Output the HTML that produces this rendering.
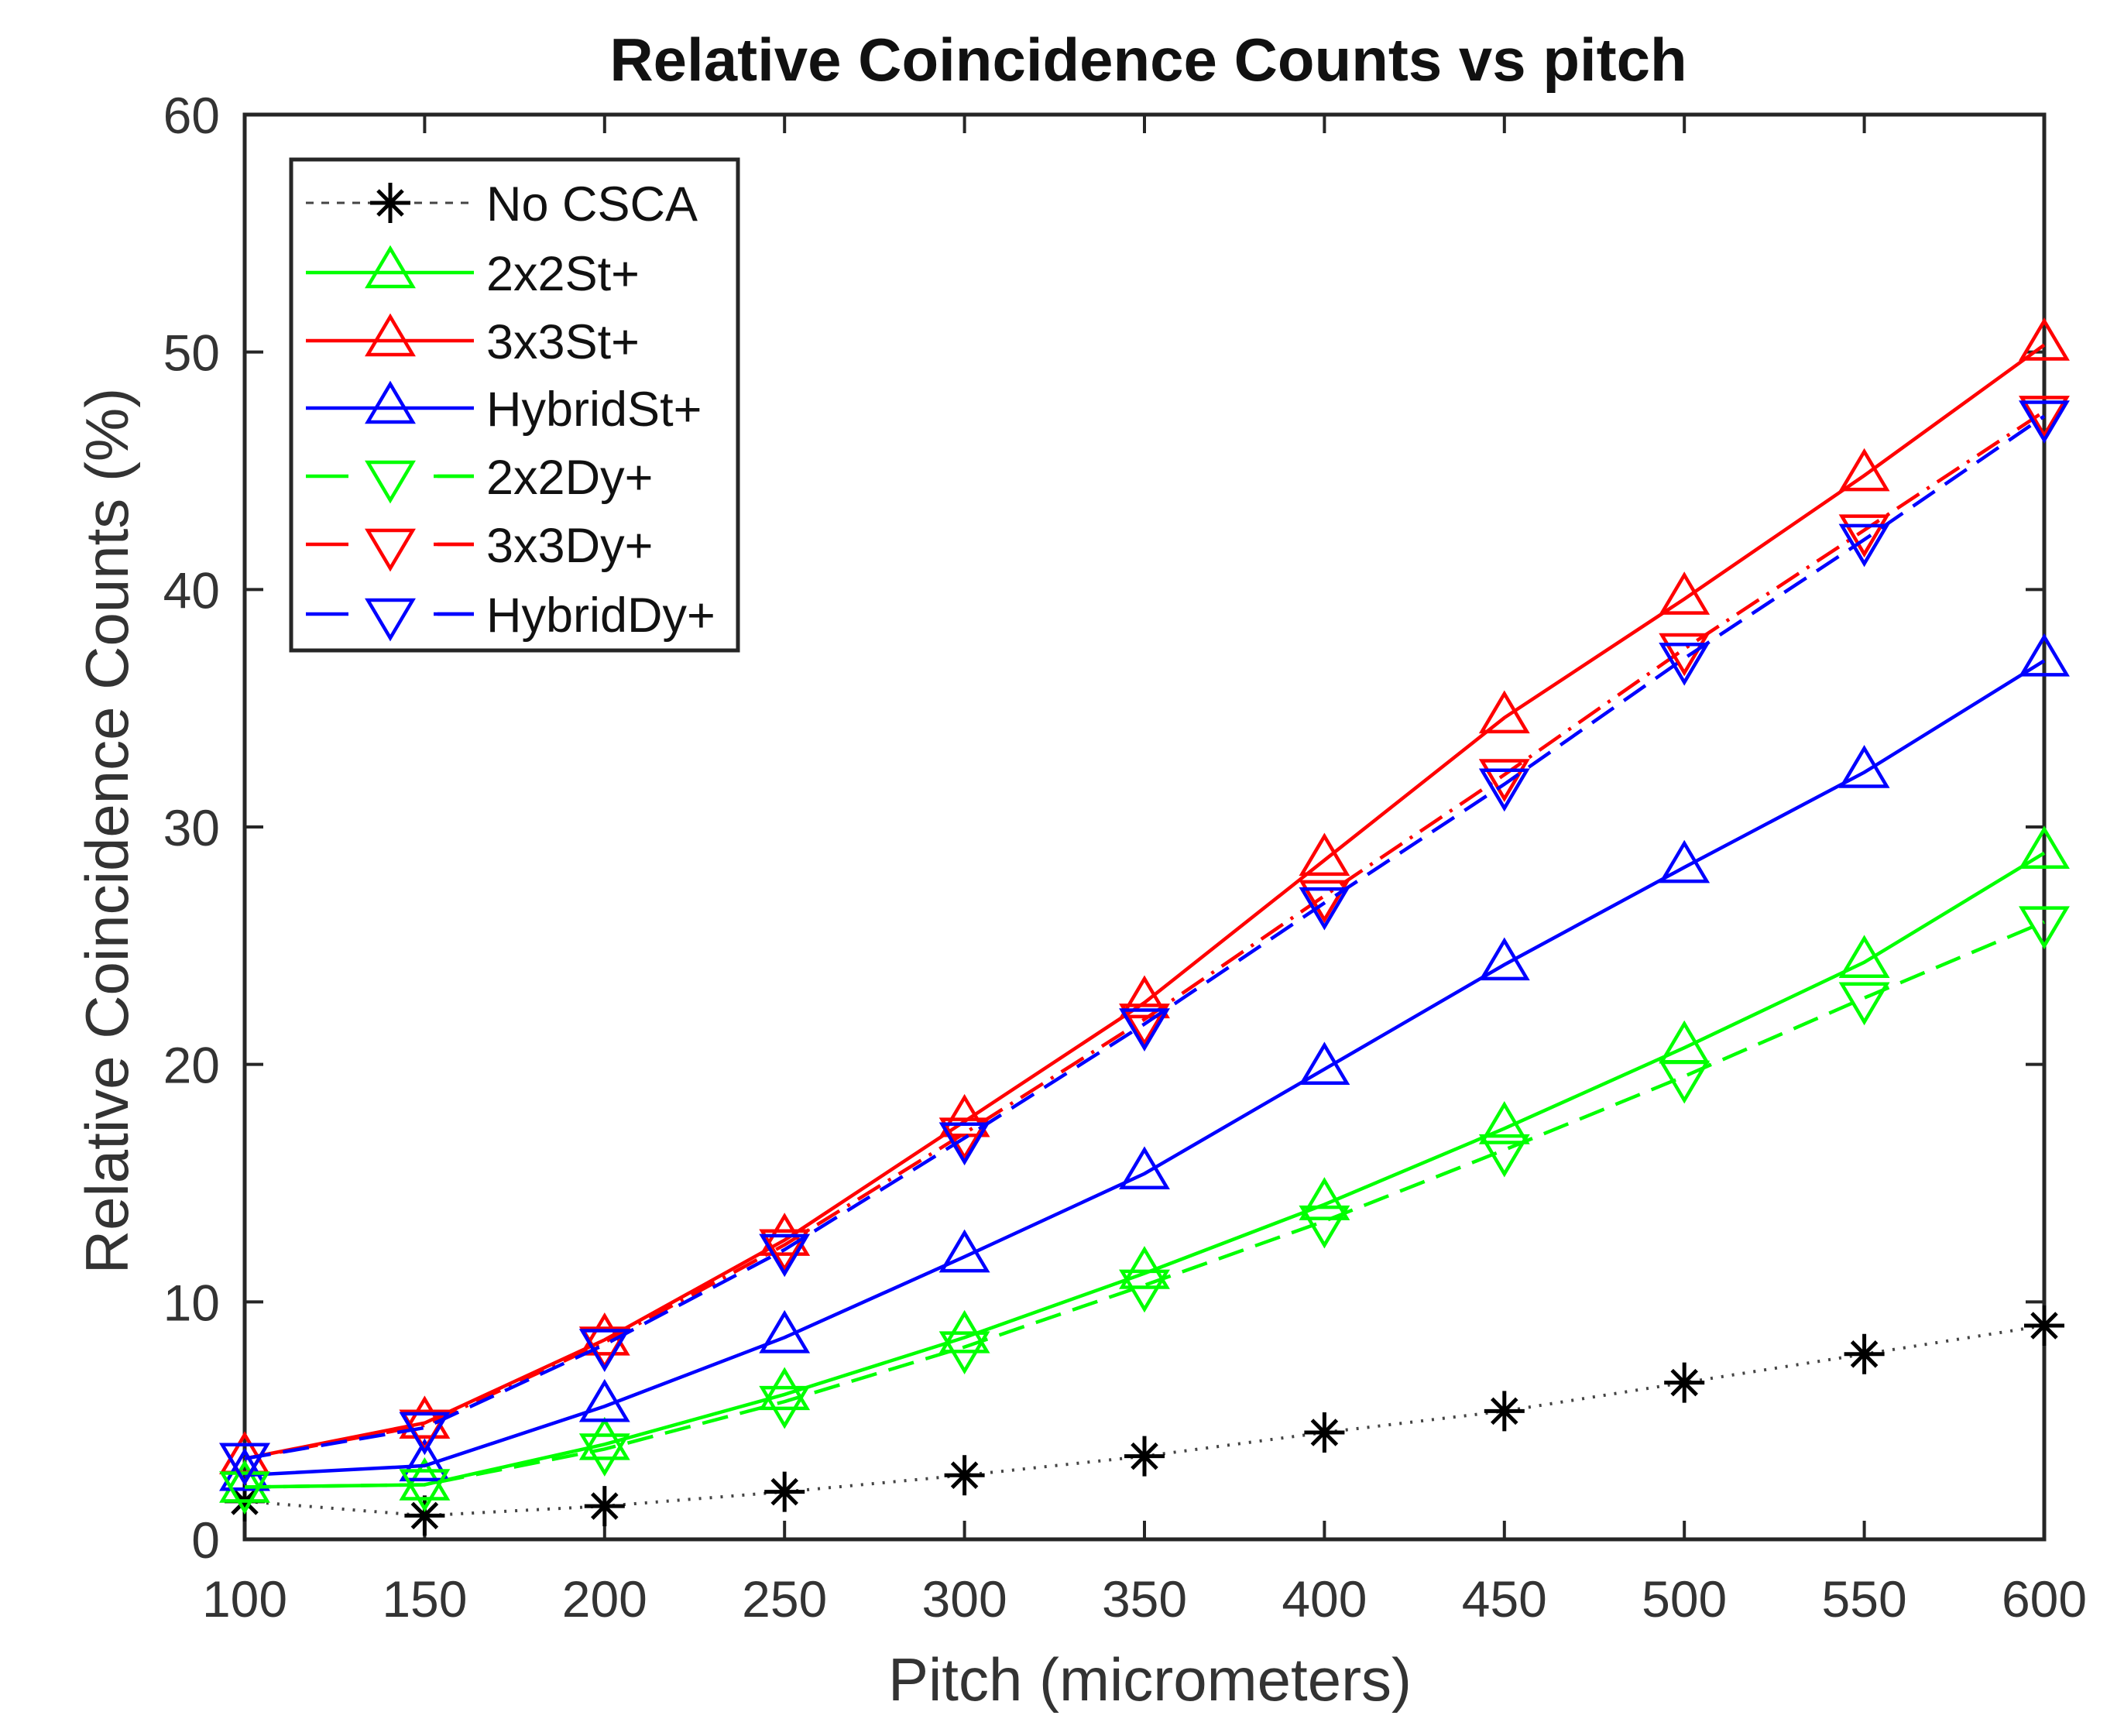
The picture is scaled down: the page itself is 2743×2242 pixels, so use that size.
<!DOCTYPE html>
<html><head><meta charset="utf-8"><style>
html,body{margin:0;padding:0;background:#fff;}
svg{display:block;font-family:"Liberation Sans",Arial,sans-serif;}
</style></head><body>
<svg id="chart" width="2743" height="2242" viewBox="0 0 2743 2242" xmlns="http://www.w3.org/2000/svg">
<rect width="2743" height="2242" fill="#fff"/>
<text x="1483" y="104" text-anchor="middle" font-size="78" font-weight="bold" fill="#111">Relative Coincidence Counts vs pitch</text>
<text x="1485" y="2196" text-anchor="middle" font-size="78" fill="#333">Pitch (micrometers)</text>
<text transform="translate(165,1073) rotate(-90)" text-anchor="middle" font-size="78" fill="#333">Relative Coincidence Counts (%)</text>
<g id="axes"></g>
<g id="series"></g>
<g id="legend"></g>
</svg>
<script>
const pitches = [100,150,200,250,300,350,400,450,500,550,600];
const xTicks = [100,150,200,250,300,350,400,450,500,550,600];
const yTicks = [0,10,20,30,40,50,60];
const noCsca = [1.6,1.0,1.4,2.0,2.7,3.5,4.5,5.4,6.6,7.8,9.0];
const st2x2 = [2.2,2.3,4.0,6.1,8.5,11.2,14.1,17.3,20.7,24.3,28.9];
const st3x3 = [3.4,4.9,8.4,12.6,17.6,22.6,28.6,34.6,39.6,44.8,50.3];
const stHybrid = [2.7,3.1,5.6,8.5,11.9,15.4,19.8,24.2,28.3,32.3,37.0];
const dy2x2 = [2.2,2.3,3.8,5.8,8.1,10.7,13.4,16.4,19.5,22.8,26.0];
const dy3x3 = [3.4,4.8,8.3,12.4,17.1,21.9,27.1,32.2,37.5,42.5,47.5];
const dyHybrid = [3.4,4.7,8.2,12.2,16.9,21.7,26.8,31.8,37.1,42.1,47.3];
const seriesNames = ["No CSCA","2x2St+","3x3St+","HybridSt+","2x2Dy+","3x3Dy+","HybridDy+"];

const L=316,R=2640,T=148,B=1988;
const xS=v=>L+(v-100)/500*(R-L);
const yS=v=>B-v/60*(B-T);
const NS="http://www.w3.org/2000/svg";
function mk(tag,attrs,parent){const e=document.createElementNS(NS,tag);for(const k in attrs)e.setAttribute(k,attrs[k]);parent.appendChild(e);return e;}
const axes=document.getElementById('axes');
const frame=mk('rect',{x:L,y:T,width:R-L,height:B-T,fill:'none',stroke:'#262626','stroke-width':5},axes);


xTicks.forEach(v=>{const x=xS(v);
 const t1=mk('line',{x1:x,y1:B,x2:x,y2:B-24,stroke:'#262626','stroke-width':4},axes);
 
 
 const t2=mk('line',{x1:x,y1:T,x2:x,y2:T+24,stroke:'#262626','stroke-width':4},axes);
 
 
 const tl=mk('text',{x:x,y:B+100,'text-anchor':'middle','font-size':66,fill:'#333'},axes);tl.textContent=v;
 
 
});
yTicks.forEach(v=>{const y=yS(v);
 const t1=mk('line',{x1:L,y1:y,x2:L+24,y2:y,stroke:'#262626','stroke-width':4},axes);
 
 
 const t2=mk('line',{x1:R,y1:y,x2:R-24,y2:y,stroke:'#262626','stroke-width':4},axes);
 
 
 const tl=mk('text',{x:L-32,y:y+24,'text-anchor':'end','font-size':66,fill:'#333'},axes);tl.textContent=v;
 
 
});
const styles=[
 {d:noCsca,c:'#000',dash:'3 11',m:'star',lc:'#444'},
 {d:st2x2,c:'#00ff00',dash:'',m:'up'},
 {d:st3x3,c:'#ff0000',dash:'',m:'up'},
 {d:stHybrid,c:'#0000ff',dash:'',m:'up'},
 {d:dy2x2,c:'#00ff00',dash:'34 16',m:'down'},
 {d:dy3x3,c:'#ff0000',dash:'34 12 4 12',m:'down'},
 {d:dyHybrid,c:'#0000ff',dash:'34 16',m:'down'}
];
function marker(g,m,x,y,c){
 if(m==='star'){
  mk('path',{d:`M${x-26} ${y}H${x+26}M${x} ${y-26}V${y+26}M${x-16} ${y-16}L${x+16} ${y+16}M${x-16} ${y+16}L${x+16} ${y-16}`,stroke:c,'stroke-width':5,fill:'none'},g);
 } else if(m==='up'){
  mk('path',{d:`M${x} ${y-31}L${x+29} ${y+18}L${x-29} ${y+18}Z`,stroke:c,'stroke-width':4.5,fill:'none'},g);
 } else {
  mk('path',{d:`M${x} ${y+31}L${x+29} ${y-18}L${x-29} ${y-18}Z`,stroke:c,'stroke-width':4.5,fill:'none'},g);
 }
}
const sg=document.getElementById('series');
styles.forEach((s,i)=>{
 const g=mk('g',{},sg);
 
 
 const pts=s.d.map((v,j)=>xS(pitches[j])+','+yS(v)).join(' ');
 const pl=mk('polyline',{points:pts,fill:'none',stroke:s.lc||s.c,'stroke-width':s.m==='star'?4:4.5,'stroke-dasharray':s.dash},g);
 
 
 s.d.forEach((v,j)=>marker(g,s.m,xS(pitches[j]),yS(v),s.c));
});
const lg=document.getElementById('legend');
const lb=mk('rect',{x:376,y:206,width:577,height:634,fill:'#fff',stroke:'#262626','stroke-width':5},lg);


const rowY=[262,352,440,527,615,703,793];
styles.forEach((s,i)=>{
 const g=mk('g',{},lg);
 
 
 const y=rowY[i];
 mk('line',{x1:395,y1:y,x2:612,y2:y,stroke:s.lc||s.c,'stroke-width':s.m==='star'?3:4.5,'stroke-dasharray':s.m==='star'?'10 10':(s.dash?'55 110':'')},g);
 if(s.dash && s.m!=='star'){mk('line',{x1:565,y1:y,x2:612,y2:y,stroke:s.c,'stroke-width':4.5},g);}
 marker(g,s.m,504,y,s.c);
 const t=mk('text',{x:628,y:y+23,'font-size':63,fill:'#111'},g);t.textContent=seriesNames[i];
});
</script>
</body></html>
